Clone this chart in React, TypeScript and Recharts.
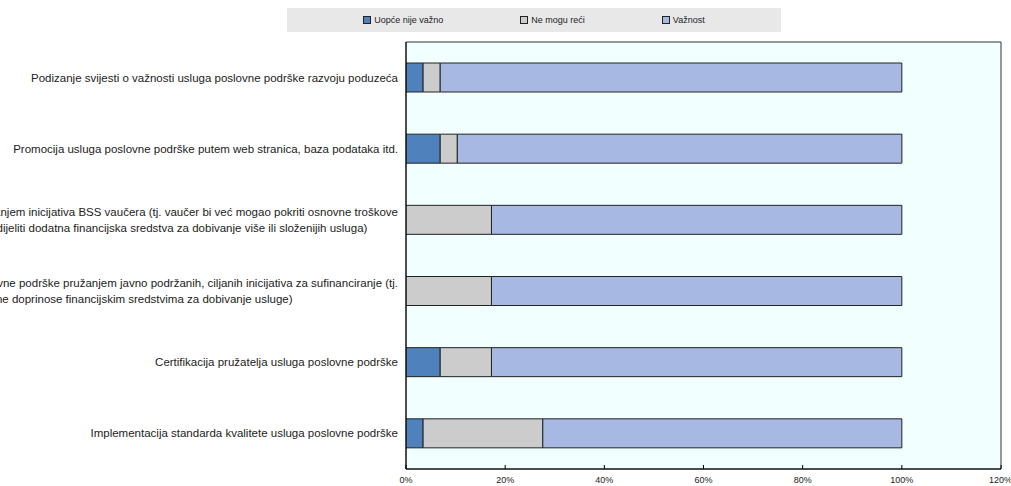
import React from 'react';
import { BarChart, Bar, XAxis, YAxis, Legend, ReferenceArea } from 'recharts';

const categories = [
  'Podizanje svijesti o važnosti usluga poslovne podrške razvoju poduzeća',
  'Promocija usluga poslovne podrške putem web stranica, baza podataka itd.',
  'Poticanje korištenja usluga poslovne podrške pružanjem inicijativa BSS vaučera (tj. vaučer bi već mogao pokriti osnovne troškove\nusluge, a za složenije usluge mogla bi se i dalje dodijeliti dodatna financijska sredstva za dobivanje više ili složenijih usluga)',
  'Poboljšanje pristupa uslugama poslovne podrške pružanjem javno podržanih, ciljanih inicijativa za sufinanciranje (tj.\npojedinci korisnici usluga daju i osobne doprinose financijskim sredstvima za dobivanje usluge)',
  'Certifikacija pružatelja usluga poslovne podrške',
  'Implementacija standarda kvalitete usluga poslovne podrške',
];

const seriesNames = ['Uopće nije važno', 'Ne mogu reći', 'Važnost'];
const uopceNijeVazno = [3.45, 6.9, 0, 0, 6.9, 3.45];
const neMoguReci = [3.45, 3.45, 17.24, 17.24, 10.34, 24.14];
const vaznost = [93.1, 89.66, 82.76, 82.76, 82.76, 72.41];

const xTicks = [0, 20, 40, 60, 80, 100, 120];
const boundaryTicks = [1, 2, 3, 4, 5];

const data = categories.map((name, i) => ({
  name,
  uopce: uopceNijeVazno[i],
  nemogu: neMoguReci[i],
  vaznost: vaznost[i],
}));

const FONT = '"Liberation Sans", Arial, sans-serif';
const LABEL_SIZE = 11.5;

let measureCtx: CanvasRenderingContext2D | null = null;
const measure = (s: string) => {
  if (!measureCtx) {
    measureCtx = document.createElement('canvas').getContext('2d');
  }
  if (!measureCtx) return s.length * LABEL_SIZE * 0.5;
  measureCtx.font = `${LABEL_SIZE}px ${FONT}`;
  return measureCtx.measureText(s).width;
};

// wrapped labels: block is right-aligned to the axis, lines inside are left-aligned
const CategoryTick = (props: any) => {
  const { x, y, payload } = props;
  const lines = String(payload.value).split('\n');
  const startDy = -((lines.length - 1) * 16) / 2;
  const blockW = Math.max(...lines.map(measure));
  const left = x - blockW;
  return (
    <text x={left} y={y} textAnchor="start" fontSize={LABEL_SIZE} fontFamily={FONT} fill="#222">
      {lines.map((line, i) => (
        <tspan key={i} x={left} dy={i === 0 ? startDy + 4 : 16}>
          {line}
        </tspan>
      ))}
    </text>
  );
};

const LegendBox = (props: any) => {
  const items = [...(props.payload || [])].sort(
    (a: any, b: any) => seriesNames.indexOf(a.value) - seriesNames.indexOf(b.value),
  );
  return (
    <div
      style={{
        background: '#E8E8E8',
        height: 24,
        display: 'flex',
        alignItems: 'center',
        justifyContent: 'center',
        gap: 77,
        fontFamily: FONT,
        fontSize: 9,
        color: '#222',
      }}
    >
      {items.map((entry: any) => (
        <div key={entry.value} style={{ display: 'flex', alignItems: 'center' }}>
          <span
            style={{
              width: 6,
              height: 6,
              background: entry.color,
              border: '1px solid #222',
              marginRight: 3,
              display: 'inline-block',
            }}
          />
          <span>{entry.value}</span>
        </div>
      ))}
    </div>
  );
};

export default function App() {
  return (
    <div style={{ position: 'absolute', left: 0, top: 0, width: 1011, height: 486, background: '#fff' }}>
      <BarChart
        width={1011}
        height={486}
        data={data}
        layout="vertical"
        margin={{ top: 42, right: 10, bottom: 0, left: 0 }}
      >
        <ReferenceArea x1={0} x2={120} fill="#F2FFFF" fillOpacity={1} stroke="#333" strokeWidth={1} ifOverflow="visible" />
        <XAxis
          type="number"
          domain={[0, 120]}
          ticks={xTicks}
          tickFormatter={(v: number) => `${v}%`}
          height={17}
          tickSize={-4}
          tickMargin={12}
          axisLine={{ stroke: '#000' }}
          tickLine={{ stroke: '#000' }}
          tick={{ fontSize: 9, fontFamily: FONT, fill: '#222' }}
          allowDataOverflow
        />
        <YAxis
          yAxisId="grid"
          type="number"
          domain={[0, 6]}
          ticks={boundaryTicks}
          width={0}
          tickSize={-4}
          tick={false}
          axisLine={false}
          tickLine={{ stroke: '#000' }}
        />
        <YAxis
          type="category"
          dataKey="name"
          width={406}
          tickSize={0}
          tickMargin={8}
          tickLine={false}
          axisLine={{ stroke: '#000' }}
          tick={<CategoryTick />}
          interval={0}
        />
        <Legend
          layout="horizontal"
          verticalAlign="middle"
          width={494}
          wrapperStyle={{ top: 8, left: 287 }}
          content={<LegendBox />}
        />
        <Bar dataKey="uopce" name={seriesNames[0]} stackId="a" fill="#4F81BD" stroke="#222" strokeWidth={1} barSize={29} isAnimationActive={false} />
        <Bar dataKey="nemogu" name={seriesNames[1]} stackId="a" fill="#CCCCCC" stroke="#222" strokeWidth={1} barSize={29} isAnimationActive={false} />
        <Bar dataKey="vaznost" name={seriesNames[2]} stackId="a" fill="#A7B9E3" stroke="#222" strokeWidth={1} barSize={29} isAnimationActive={false} />
      </BarChart>
    </div>
  );
}
